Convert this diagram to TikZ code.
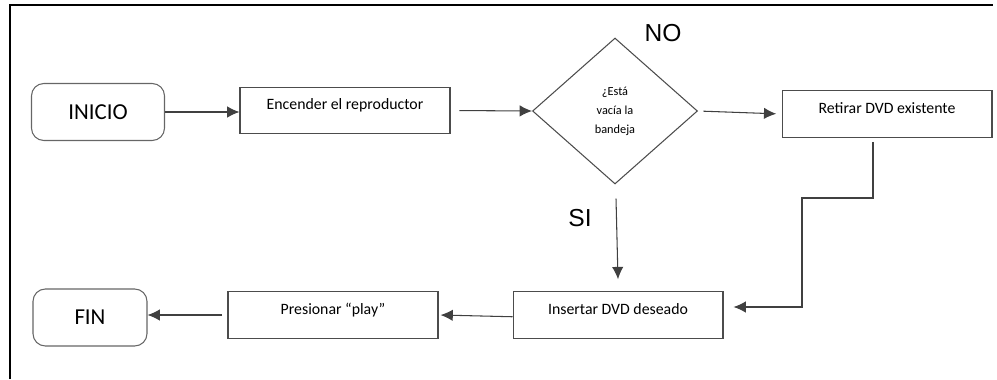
\documentclass[tikz,border=0pt]{standalone}
\usepackage{fontspec}
\setmainfont{Carlito}
\newfontfamily\arialfont{Liberation Sans}
\usetikzlibrary{shapes.geometric,arrows.meta}

\begin{document}
\begin{tikzpicture}[
        x=0.02cm, y=-0.02cm,
        >={Latex[length=7pt,width=6.5pt]},
        line width=0.6pt,
        every node/.style={font=\fontsize{9}{11}\selectfont},
        caja/.style={draw=black!70, minimum width=4.2cm, minimum height=0.93cm, inner sep=0pt,
            text height=6.5pt, text depth=7.5pt},
        terminal/.style={draw=black!60, rounded corners=7pt, inner sep=0pt,
            font=\fontsize{13}{15}\selectfont},
        decision/.style={diamond, draw=black!70, inner sep=0pt,
            minimum width=3.3cm, minimum height=2.92cm, align=center,
            font=\fontsize{7}{10.8}\selectfont},
        etiqueta/.style={font=\arialfont\fontsize{14}{16}\selectfont}
    ]

        \useasboundingbox (0,0) rectangle (997,379);

        % Marco
        \draw[line width=1.2pt] (10,379) -- (10,5) -- (993,5);

        % Nodos
        \node[terminal, minimum width=2.66cm, minimum height=1.14cm] (inicio) at (98,112) {INICIO};
        \node[caja] (encender) at (345,110.5) {Encender el reproductor};
        \node[decision] (bandeja) at (615,111) {¿Está\\vacía la\\bandeja};
        \node[caja] (retirar) at (887,114) {Retirar DVD existente};
        \node[caja] (insertar) at (618,315) {Insertar DVD deseado};
        \node[caja] (presionar) at (333,315) {Presionar “play”};
        \node[terminal, minimum width=2.28cm, minimum height=1.14cm] (fin) at (90,317.5) {FIN};

        \node[etiqueta] (no) at (663,33) {NO};
        \node[etiqueta] (si) at (580,218) {SI};

        \coordinate (codo) at (802,198);

        % Conectores
        \draw[->, black!75] (inicio.east) -- (encender.west |- inicio.east);
        \draw[->, black!75, shorten <=5pt] (encender.east) -- (bandeja.west);
        \draw[->, black!75, shorten <=3pt, shorten >=3pt] (bandeja.east) -- (retirar.west);
        \draw[->, black!75] ([shift={(-14,4)}]retirar.south) |- (codo)
            |- ([shift={(10,-8)}]insertar.east);
        \draw[->, black!75] ([shift={(1,14)}]bandeja.south) -- ([shift={(0,-12)}]insertar.north);
        \draw[->, black!75] ([yshift=-1pt]insertar.west) -- ([shift={(2,0)}]presionar.east |- insertar.west);
        \draw[->, black!75, shorten <=3pt] (presionar.west) -- (fin.east |- presionar.west);

    \end{tikzpicture}
\end{document}
